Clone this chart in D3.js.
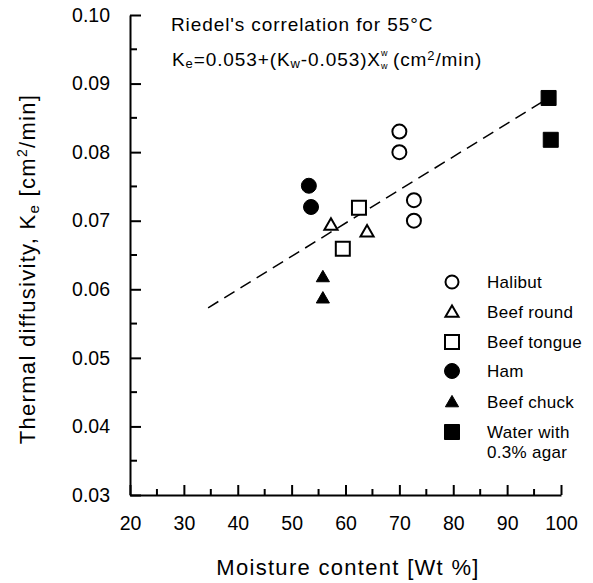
<!DOCTYPE html>
<html lang="en">
<head>
    <meta charset="UTF-8">
    <script src="https://d3js.org/d3.v7.min.js"></script>
    <title>Thermal diffusivity</title>
    <style>
        body { margin: 0; background: #fff; }
        text { font-family: 'Liberation Sans', Arial, sans-serif; fill: #000; }
        .axis path, .axis line { stroke: #000; stroke-width: 2; }
        .axis text { font-size: 19.5px; }
        text.title { font-size: 22px; letter-spacing: 1.3px; }
        text.note { font-size: 19px; letter-spacing: 0.9px; }
        text.leg { font-size: 17px; letter-spacing: 0.3px; }
    </style>
</head>
<body>
<svg height="583" width="593"></svg>
<script>
    // values
    const xTicks = [20, 30, 40, 50, 60, 70, 80, 90, 100];
    const yTicks = [0.03, 0.04, 0.05, 0.06, 0.07, 0.08, 0.09, 0.10];

    const halibut = [[70, 0.083], [70, 0.080], [72.7, 0.073], [72.7, 0.070]];
    const beefRound = [[57.3, 0.0694], [64.0, 0.0684]];
    const beefTongue = [[62.5, 0.0719], [59.5, 0.0659]];
    const ham = [[53.2, 0.0751], [53.6, 0.0720]];
    const beefChuck = [[55.8, 0.0618], [55.8, 0.0587]];
    const water = [[97.7, 0.0879], [98.1, 0.0818]];
    const riedelLine = [[34.5, 0.0573], [97.7, 0.0879]];

    const legendNames = ["Halibut", "Beef round", "Beef tongue", "Ham", "Beef chuck", "Water with"];

    const svg = d3.select("svg");
    const x = d3.scaleLinear().domain([20, 100]).range([130, 561]);
    const y = d3.scaleLinear().domain([0.03, 0.10]).range([495, 15]);

    // axes, ticks pointing inward
    svg.append("g").attr("class", "axis")
        .attr("transform", "translate(0,495)")
        .call(d3.axisBottom(x).tickValues(xTicks).tickSizeInner(-10).tickSizeOuter(0).tickPadding(21));
    svg.append("g").attr("class", "axis")
        .attr("transform", "translate(130,0)")
        .call(d3.axisLeft(y).tickValues(yTicks).tickFormat(d3.format(".2f")).tickSizeInner(-11).tickSizeOuter(0).tickPadding(20));

    // minor ticks
    svg.append("g").selectAll("line").data(d3.range(25, 100, 10)).join("line")
        .attr("x1", x).attr("x2", x).attr("y1", 495).attr("y2", 489)
        .attr("stroke", "#000").attr("stroke-width", 2);
    svg.append("g").selectAll("line").data(d3.range(0.035, 0.1, 0.01)).join("line")
        .attr("x1", 130).attr("x2", 137).attr("y1", y).attr("y2", y)
        .attr("stroke", "#000").attr("stroke-width", 2);

    // correlation line
    svg.append("path").datum(riedelLine)
        .attr("d", d3.line().x(d => x(d[0])).y(d => y(d[1])))
        .attr("fill", "none").attr("stroke", "#000").attr("stroke-width", 1.5)
        .attr("stroke-dasharray", "12,7");

    const tri = d3.symbol().type(d3.symbolTriangle).size(75);
    function drawSet(data, kind, filled) {
        const g = svg.append("g");
        const sel = g.selectAll("." + kind).data(data).join(kind === "circle" ? "circle" : "path");
        if (kind === "circle") {
            sel.attr("cx", d => x(d[0])).attr("cy", d => y(d[1])).attr("r", filled ? 7.5 : 7);
        } else if (kind === "square") {
            sel.attr("d", d3.symbol().type(d3.symbolSquare).size(filled ? 225 : 196)())
                .attr("transform", d => `translate(${x(d[0])},${y(d[1])})`);
        } else {
            sel.attr("d", tri()).attr("transform", d => `translate(${x(d[0])},${y(d[1]) + 1})`);
        }
        sel.attr("fill", filled ? "#000" : "#fff").attr("stroke", "#000").attr("stroke-width", filled ? 1 : 2);
    }
    drawSet(halibut, "circle", false);
    drawSet(beefRound, "triangle", false);
    drawSet(beefTongue, "square", false);
    drawSet(ham, "circle", true);
    drawSet(beefChuck, "triangle", true);
    drawSet(water, "square", true);

    // legend
    const legKinds = [["circle", false], ["triangle", false], ["square", false], ["circle", true], ["triangle", true], ["square", true]];
    const legY = [282, 312, 342, 371, 402, 432];
    legendNames.forEach((name, i) => {
        const [kind, filled] = legKinds[i];
        const cy = legY[i];
        let m;
        if (kind === "circle") m = svg.append("circle").attr("cx", 452).attr("cy", cy).attr("r", filled ? 7.5 : 6.5);
        else if (kind === "square") m = svg.append("path").attr("d", d3.symbol().type(d3.symbolSquare).size(filled ? 225 : 196)()).attr("transform", `translate(452,${cy})`);
        else m = svg.append("path").attr("d", tri()).attr("transform", `translate(452,${cy + 1})`);
        m.attr("fill", filled ? "#000" : "#fff").attr("stroke", "#000").attr("stroke-width", filled ? 1 : 2);
        svg.append("text").attr("class", "leg").attr("x", 487).attr("y", cy + 6).text(name);
    });
    svg.append("text").attr("class", "leg").attr("x", 487).attr("y", 458).text("0.3% agar");

    // annotation
    svg.append("text").attr("class", "note").attr("x", 171).attr("y", 31).text("Riedel's correlation for 55°C");
    const eq = svg.append("text").attr("class", "note").attr("x", 172).attr("y", 66);
    eq.append("tspan").text("K");
    eq.append("tspan").attr("font-size", 13).attr("dy", 2).text("e");
    eq.append("tspan").attr("dy", -2).text("=0.053+(K");
    eq.append("tspan").attr("font-size", 13).attr("dy", 2).text("w");
    eq.append("tspan").attr("dy", -2).text("-0.053)X");
    const xEnd = 172 + eq.node().getBBox().width;
    // stacked indices after X
    svg.append("text").attr("x", xEnd).attr("y", 56).attr("font-size", 9).text("w");
    svg.append("text").attr("x", xEnd).attr("y", 69).attr("font-size", 9).text("w");
    const eq2 = svg.append("text").attr("class", "note").attr("x", xEnd + 12).attr("y", 66);
    eq2.append("tspan").text("(cm");
    eq2.append("tspan").attr("font-size", 13).attr("dy", -6).text("2");
    eq2.append("tspan").attr("dy", 6).text("/min)");

    // axis titles
    svg.append("text").attr("class", "title").attr("x", 348).attr("y", 575)
        .attr("text-anchor", "middle").text("Moisture content  [Wt %]");
    const yt = svg.append("text").attr("class", "title").attr("text-anchor", "middle")
        .attr("transform", "translate(35,269) rotate(-90)");
    yt.append("tspan").text("Thermal diffusivity, K");
    yt.append("tspan").attr("font-size", 15).attr("dy", 4).text("e");
    yt.append("tspan").attr("dy", -4).text(" [cm");
    yt.append("tspan").attr("font-size", 14).attr("dy", -8).text("2");
    yt.append("tspan").attr("dy", 8).text("/min]");
</script>
</body>
</html>
